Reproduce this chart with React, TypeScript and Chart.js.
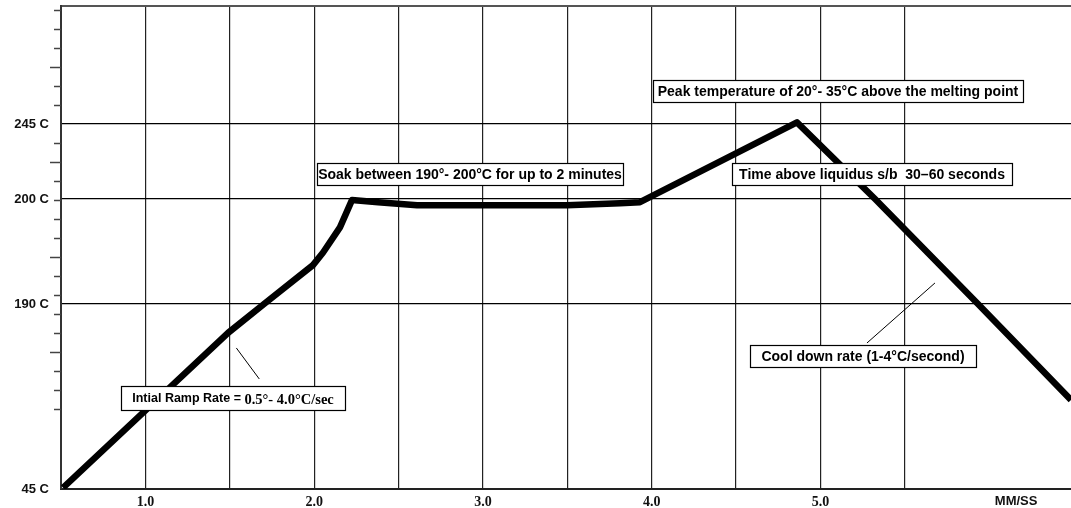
import React, { useEffect, useRef } from 'react';
import { Chart, registerables, LinearScale } from 'chart.js';

Chart.register(...registerables);

// ---------- data ----------
const TIME_MIN = [0.512, 1.49, 1.703, 1.993, 2.053, 2.153, 2.224, 2.379, 2.61, 3.498, 3.813, 3.931, 4.861, 5.324, 5.934, 6.485];
const TEMP_C = [46, 167.3, 190, 193.7, 194.9, 197.3, 199.9, 199.7, 199.4, 199.4, 199.6, 199.7, 246, 200, 190, 114.8];

const X_GRID = [1.0, 1.5, 2.0, 2.5, 3.0, 3.5, 4.0, 4.5, 5.0, 5.5];
const X_UNIT_LABEL = 'MM/SS';
const X_UNIT_AT = 6.16;
const X_MIN = 0.5;
const X_MAX = 6.485;

const Y_LABEL_TEMPS = [45, 190, 200, 245];
// broken (piecewise) temperature axis: temperatures vs. evenly spaced tick divisions
const Y_BREAK_TEMPS = [45, 190, 200, 245, 315.8];
const Y_BREAK_DIVS = [0, 9.74, 15.26, 19.21, 25.42];
const Y_MINOR_FROM = 4.21;
const Y_MINOR_TO = 25.21;
const Y_MINOR_LONG_AT = 7.21;

// ---------- annotations ----------
const SANS = "'Liberation Sans', Arial, sans-serif";
const SERIF = "'Liberation Serif', 'Times New Roman', serif";
const NOTES = [
  { x: 0.856, y: 125.7, w: 224, h: 24, runs: [
    { text: 'Intial Ramp Rate = ', font: `bold 12.5px ${SANS}`, dy: 0 },
    { text: '0.5°- 4.0°C/sec', font: `bold 14.5px ${SERIF}`, dy: 1 },
  ] },
  { x: 2.017, y: 221.6, w: 306, h: 22, runs: [
    { text: 'Soak between 190°- 200°C for up to 2 minutes', font: `bold 14px ${SANS}`, dy: 0 },
  ] },
  { x: 4.008, y: 271.4, w: 370, h: 22, runs: [
    { text: 'Peak temperature of 20°- 35°C above the melting point', font: `bold 14px ${SANS}`, dy: 0 },
  ] },
  { x: 4.476, y: 221.6, w: 280, h: 22, runs: [
    { text: 'Time above liquidus s/b  30–60 seconds', font: `bold 14px ${SANS}`, dy: 0 },
  ] },
  { x: 4.583, y: 157.9, w: 226, h: 22, runs: [
    { text: 'Cool down rate (1-4°C/second)', font: `bold 14px ${SANS}`, dy: 0 },
  ] },
];
const LEADERS = [
  { x1: 1.539, y1: 155.5, x2: 1.675, y2: 131.2 },
  { x1: 5.276, y1: 159.4, x2: 5.679, y2: 192.0 },
];

function interp(v: number, xs: number[], ys: number[]) {
  const n = xs.length;
  for (let i = 0; i < n - 1; i++) {
    if (v <= xs[i + 1] || i === n - 2) {
      const t = (v - xs[i]) / (xs[i + 1] - xs[i]);
      return ys[i] + t * (ys[i + 1] - ys[i]);
    }
  }
  return ys[0];
}

class BrokenTempScale extends LinearScale {
  static id = 'brokenTemp';
  static defaults = LinearScale.defaults;

  getPixelForValue(value: number) {
    const d0 = Y_BREAK_DIVS[0];
    const d1 = Y_BREAK_DIVS[Y_BREAK_DIVS.length - 1];
    const d = interp(value, Y_BREAK_TEMPS, Y_BREAK_DIVS);
    return (this as any).getPixelForDecimal((d - d0) / (d1 - d0));
  }

  getValueForPixel(pixel: number) {
    const d0 = Y_BREAK_DIVS[0];
    const d1 = Y_BREAK_DIVS[Y_BREAK_DIVS.length - 1];
    const dec = (this as any).getDecimalForPixel(pixel);
    return interp(d0 + dec * (d1 - d0), Y_BREAK_DIVS, Y_BREAK_TEMPS);
  }

  buildTicks() {
    const ticks: any[] = [];
    Y_LABEL_TEMPS.forEach((v) => ticks.push({ value: v, kind: 'label' }));
    ticks.push({ value: (this as any).max, kind: 'top' });
    for (let k = 0; ; k++) {
      const d = Y_MINOR_FROM + k;
      if (d > Y_MINOR_TO + 1e-6) break;
      if (Math.abs(d - Y_BREAK_DIVS[3]) < 0.01) continue;
      const steps = Math.round(d - Y_MINOR_LONG_AT);
      ticks.push({ value: interp(d, Y_BREAK_DIVS, Y_BREAK_TEMPS), kind: 'minor', long: steps % 5 === 0 });
    }
    ticks.sort((a, b) => a.value - b.value);
    return ticks;
  }
}
Chart.register(BrokenTempScale as any);

const minorTicksPlugin = {
  id: 'minorTicks',
  afterDraw(chart: any) {
    const y = chart.scales.y;
    const ctx = chart.ctx;
    ctx.save();
    ctx.strokeStyle = '#444';
    ctx.lineWidth = 1.5;
    y.ticks.forEach((t: any) => {
      if (t.kind !== 'minor') return;
      const py = Math.round(y.getPixelForValue(t.value)) + 0.5;
      const len = t.long ? 11 : 7;
      ctx.beginPath();
      ctx.moveTo(y.right - len, py);
      ctx.lineTo(y.right, py);
      ctx.stroke();
    });
    ctx.restore();
  },
};

const notesPlugin = {
  id: 'notes',
  afterDatasetsDraw(chart: any) {
    const { ctx } = chart;
    const x = chart.scales.x;
    const y = chart.scales.y;
    ctx.save();
    ctx.strokeStyle = '#000';
    ctx.lineWidth = 1;
    LEADERS.forEach((l) => {
      ctx.beginPath();
      ctx.moveTo(x.getPixelForValue(l.x1), y.getPixelForValue(l.y1));
      ctx.lineTo(x.getPixelForValue(l.x2), y.getPixelForValue(l.y2));
      ctx.stroke();
    });
    NOTES.forEach((n) => {
      const left = Math.round(x.getPixelForValue(n.x));
      const top = Math.round(y.getPixelForValue(n.y));
      ctx.fillStyle = '#fff';
      ctx.fillRect(left, top, n.w, n.h);
      ctx.strokeStyle = '#000';
      ctx.lineWidth = 1.2;
      ctx.strokeRect(left + 0.5, top + 0.5, n.w, n.h);
      let total = 0;
      const widths = n.runs.map((r) => {
        ctx.font = r.font;
        const w = ctx.measureText(r.text).width;
        total += w;
        return w;
      });
      let cx = left + (n.w - total) / 2;
      ctx.fillStyle = '#000';
      ctx.textBaseline = 'middle';
      ctx.textAlign = 'left';
      n.runs.forEach((r, i) => {
        ctx.font = r.font;
        ctx.fillText(r.text, cx, top + n.h / 2 + 1 + r.dy);
        cx += widths[i];
      });
    });
    ctx.restore();
  },
};

export default function App() {
  const canvasRef = useRef<HTMLCanvasElement | null>(null);

  useEffect(() => {
    if (!canvasRef.current) return;
    const chart = new Chart(canvasRef.current, {
      type: 'line',
      data: {
        datasets: [
          {
            data: TIME_MIN.map((t, i) => ({ x: t, y: TEMP_C[i] })),
            borderColor: '#000',
            borderWidth: 6.5,
            pointRadius: 0,
            tension: 0,
            fill: false,
            borderJoinStyle: 'round',
          },
        ],
      },
      options: {
        animation: false,
        responsive: false,
        devicePixelRatio: 1,
        layout: { padding: { top: 6, left: 0, right: 0, bottom: 0 } },
        plugins: { legend: { display: false }, tooltip: { enabled: false }, title: { display: false } },
        scales: {
          x: {
            type: 'linear',
            min: X_MIN,
            max: X_MAX,
            afterBuildTicks: (axis: any) => {
              axis.ticks = [...X_GRID, X_UNIT_AT].map((v) => ({ value: v }));
            },
            afterFit: (scale: any) => {
              scale.height = 19;
            },
            grid: {
              drawTicks: false,
              color: (c: any) => (c.tick && c.tick.value === X_UNIT_AT ? 'rgba(0,0,0,0)' : '#222'),
              lineWidth: 1.2,
            },
            border: { display: true, color: '#222', width: 2 },
            ticks: {
              autoSkip: false,
              maxRotation: 0,
              padding: 5,
              color: '#111',
              font: (c: any) =>
                c.tick && c.tick.value === X_UNIT_AT
                  ? { family: SANS, size: 13, weight: 'bold' }
                  : { family: SERIF, size: 14, weight: 'bold' },
              callback: (v: any) => {
                const n = Number(v);
                if (Math.abs(n - X_UNIT_AT) < 1e-9) return X_UNIT_LABEL;
                return Number.isInteger(n) ? n.toFixed(1) : '';
              },
            },
          },
          y: {
            type: 'brokenTemp' as any,
            min: Y_BREAK_TEMPS[0],
            max: Y_BREAK_TEMPS[Y_BREAK_TEMPS.length - 1],
            afterFit: (scale: any) => {
              scale.width = 61;
            },
            grid: {
              drawTicks: true,
              tickLength: 12,
              tickColor: 'rgba(0,0,0,0)',
              color: (c: any) => {
                const t = c.tick;
                if (!t) return 'rgba(0,0,0,0)';
                if (t.kind === 'top') return '#555';
                if (t.kind === 'label' && t.value !== Y_BREAK_TEMPS[0]) return '#000';
                return 'rgba(0,0,0,0)';
              },
              lineWidth: (c: any) => (c.tick && c.tick.kind === 'top' ? 2 : 1.2),
            },
            border: { display: true, color: '#333', width: 2 },
            ticks: {
              autoSkip: false,
              padding: 0,
              color: '#111',
              font: (c: any) =>
                c.tick && c.tick.kind === 'label'
                  ? { family: SANS, size: 13, weight: 'bold' }
                  : { family: SANS, size: 1 },
              callback: (v: any, i: number, ticks: any[]) => (ticks[i] && ticks[i].kind === 'label' ? `${v} C` : ''),
            },
          },
        },
      },
      plugins: [minorTicksPlugin, notesPlugin],
    } as any);
    return () => chart.destroy();
  }, []);

  return (
    <div style={{ position: 'fixed', left: 0, top: 0, width: 1071, height: 508, background: '#fff' }}>
      <canvas ref={canvasRef} width={1071} height={508} style={{ display: 'block' }} />
    </div>
  );
}
